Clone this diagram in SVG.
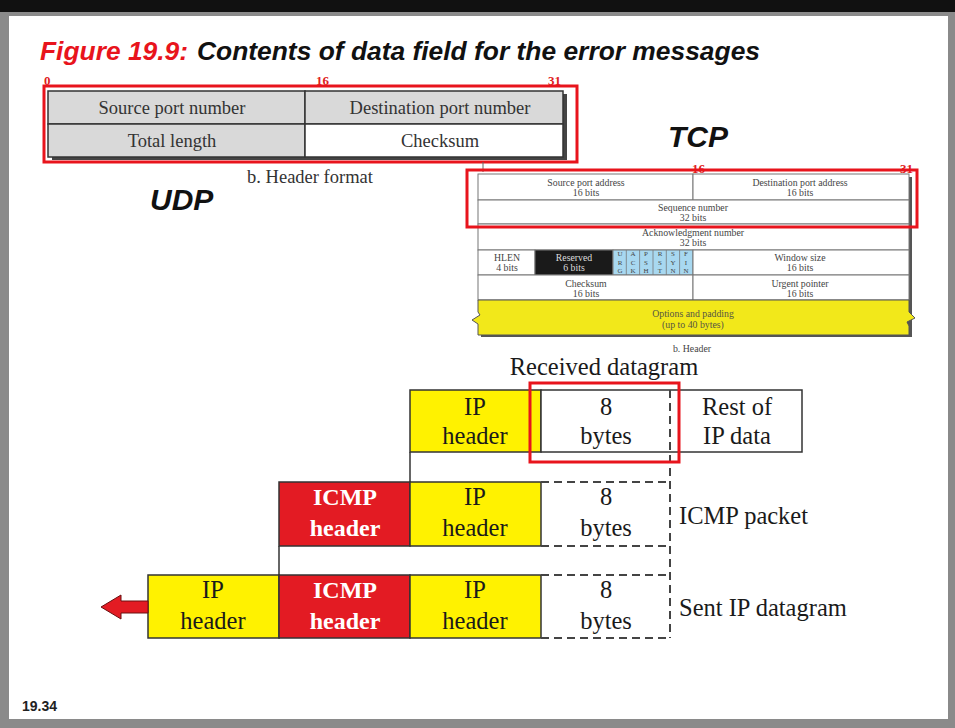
<svg xmlns="http://www.w3.org/2000/svg" width="955" height="728" viewBox="0 0 955 728">
<style>
.big{font-family:"Liberation Serif",serif;font-size:24.5px;fill:#1a1a1a;text-anchor:middle;}
.lbl{font-family:"Liberation Serif",serif;font-size:24.5px;fill:#1a1a1a;}
.wh{font-family:"Liberation Serif",serif;font-size:24px;fill:#fff;font-weight:bold;text-anchor:middle;}
.tc{font-family:"Liberation Serif",serif;font-size:9.8px;fill:#444;text-anchor:middle;}
.fl{font-family:"Liberation Serif",serif;font-size:7px;fill:#444;text-anchor:middle;}
.ud{font-family:"Liberation Serif",serif;font-size:18.5px;fill:#333;text-anchor:middle;}
.red{font-family:"Liberation Serif",serif;font-size:13px;fill:#e02020;font-weight:bold;}
.hl{fill:none;stroke:#e8141c;stroke-width:3;}
.cell{stroke:#333;stroke-width:1.5;}
.tcell{fill:#fff;stroke:#777;stroke-width:1;}
.dash{fill:none;stroke:#444;stroke-width:2;stroke-dasharray:8,5;}
.yel{fill:#fff200;}
.rd{fill:#e31b23;}
.big-it{font-family:"Liberation Sans",Arial,sans-serif;font-style:italic;font-weight:bold;font-size:30px;fill:#111;}
</style>
<rect x="0" y="0" width="955" height="728" fill="#8a8a8a"/>
<rect x="0" y="0" width="955" height="12" fill="#111"/>
<rect x="9" y="16" width="939" height="703" fill="#fff"/>

<g id="title">
<text x="40" y="60" font-family="Liberation Sans,Arial,sans-serif" font-style="italic" font-weight="bold" font-size="26" fill="#e8141c" textLength="148" lengthAdjust="spacingAndGlyphs">Figure 19.9:</text>
<text x="197" y="60" font-family="Liberation Sans,Arial,sans-serif" font-style="italic" font-weight="bold" font-size="26" fill="#111" textLength="563" lengthAdjust="spacingAndGlyphs">Contents of data field for the error messages</text>
</g>

<g id="udp-header">
<text class="red" x="44" y="85">0</text>
<text class="red" x="316" y="85">16</text>
<text class="red" x="548" y="85">31</text>
<rect x="52" y="94" width="515" height="66" fill="#444"/>
<rect x="48" y="91" width="257" height="33" fill="#d9d9d9" class="cell"/>
<rect x="305" y="91" width="258" height="33" fill="#d9d9d9" class="cell"/>
<rect x="48" y="124" width="257" height="33" fill="#d9d9d9" class="cell"/>
<rect x="305" y="124" width="258" height="33" fill="#fff" class="cell"/>
<text class="ud" x="172" y="114">Source port number</text>
<text class="ud" x="440" y="114">Destination port number</text>
<text class="ud" x="172" y="147">Total length</text>
<text class="ud" x="440" y="147">Checksum</text>
<rect class="hl" x="44" y="86" width="533" height="76"/>
<text class="ud" x="310" y="183">b. Header format</text>
<text class="big-it" x="150" y="210">UDP</text>
</g>

<g id="tcp-header">
<line x1="483" y1="162" x2="483" y2="172" stroke="#666" stroke-width="1"/>
<text class="red" x="692" y="173" font-size="10" font-weight="normal">16</text>
<text class="red" x="900" y="173" font-size="10" font-weight="normal">31</text>
<rect x="481" y="177" width="431" height="160" fill="#555"/>
<rect class="tcell" x="478" y="174" width="215" height="26"/>
<rect class="tcell" x="693" y="174" width="216" height="26"/>
<rect class="tcell" x="478" y="200" width="431" height="24"/>
<rect class="tcell" x="478" y="224" width="431" height="26"/>
<rect class="tcell" x="478" y="250" width="57" height="25"/>
<rect x="535" y="250" width="78" height="25" fill="#1a1a1a" stroke="#777" stroke-width="1"/>
<rect x="613" y="250" width="80" height="25" fill="#a8d8f0" stroke="#777" stroke-width="1"/>
<g stroke="#777" stroke-width="0.8">
<line x1="626.3" y1="250" x2="626.3" y2="275"/><line x1="639.6" y1="250" x2="639.6" y2="275"/><line x1="653" y1="250" x2="653" y2="275"/><line x1="666.3" y1="250" x2="666.3" y2="275"/><line x1="679.6" y1="250" x2="679.6" y2="275"/>
</g>
<rect class="tcell" x="693" y="250" width="216" height="25"/>
<rect class="tcell" x="478" y="275" width="215" height="25"/>
<rect class="tcell" x="693" y="275" width="216" height="25"/>
<path d="M478,300 H909 V312 L915,318 L907,322 L909,326 V335 H478 V324 L472,320 L480,315 L478,312 Z" fill="#f2e81a" stroke="#555" stroke-width="1"/>
<text class="tc" x="586" y="186">Source port address</text>
<text class="tc" x="586" y="196">16 bits</text>
<text class="tc" x="800" y="186">Destination port address</text>
<text class="tc" x="800" y="196">16 bits</text>
<text class="tc" x="693" y="211">Sequence number</text>
<text class="tc" x="693" y="221">32 bits</text>
<text class="tc" x="693" y="236">Acknowledgment number</text>
<text class="tc" x="693" y="246">32 bits</text>
<text class="tc" x="507" y="261">HLEN</text>
<text class="tc" x="507" y="271">4 bits</text>
<text class="tc" x="574" y="261" style="fill:#ddd">Reserved</text>
<text class="tc" x="574" y="271" style="fill:#ddd">6 bits</text>
<text x="620" y="256" class="fl">U</text><text x="620" y="264.5" class="fl">R</text><text x="620" y="273" class="fl">G</text>
<text x="633" y="256" class="fl">A</text><text x="633" y="264.5" class="fl">C</text><text x="633" y="273" class="fl">K</text>
<text x="646" y="256" class="fl">P</text><text x="646" y="264.5" class="fl">S</text><text x="646" y="273" class="fl">H</text>
<text x="660" y="256" class="fl">R</text><text x="660" y="264.5" class="fl">S</text><text x="660" y="273" class="fl">T</text>
<text x="673" y="256" class="fl">S</text><text x="673" y="264.5" class="fl">Y</text><text x="673" y="273" class="fl">N</text>
<text x="686" y="256" class="fl">F</text><text x="686" y="264.5" class="fl">I</text><text x="686" y="273" class="fl">N</text>
<text class="tc" x="800" y="261">Window size</text>
<text class="tc" x="800" y="271">16 bits</text>
<text class="tc" x="586" y="287">Checksum</text>
<text class="tc" x="586" y="297">16 bits</text>
<text class="tc" x="800" y="287">Urgent pointer</text>
<text class="tc" x="800" y="297">16 bits</text>
<text class="tc" x="693" y="317" style="fill:#554">Options and padding</text>
<text class="tc" x="693" y="328" style="fill:#554">(up to 40 bytes)</text>
<text class="tc" x="692" y="352" font-size="8.5">b. Header</text>
<rect class="hl" x="467" y="170" width="450" height="57"/>
<text class="big-it" x="668" y="147">TCP</text>
</g>

<g id="received-datagram">
<text class="big" x="604" y="375">Received datagram</text>
<rect class="yel cell" x="410" y="390" width="131" height="62"/>
<rect fill="#fff" class="cell" x="541" y="390" width="261" height="62"/>
<text class="big" x="475" y="415">IP</text>
<text class="big" x="475" y="444">header</text>
<text class="big" x="606" y="415">8</text>
<text class="big" x="606" y="444">bytes</text>
<text class="big" x="737" y="415">Rest of</text>
<text class="big" x="737" y="444">IP data</text>
</g>

<g id="icmp-packet">
<rect class="rd cell" x="279" y="482" width="131" height="64"/>
<rect class="yel cell" x="410" y="482" width="131" height="64"/>
<text class="wh" x="345" y="505">ICMP</text>
<text class="wh" x="345" y="536">header</text>
<text class="big" x="475" y="505">IP</text>
<text class="big" x="475" y="536">header</text>
<path class="dash" d="M541,482 H670 M541,546 H670"/>
<text class="big" x="606" y="505">8</text>
<text class="big" x="606" y="536">bytes</text>
<text class="lbl" x="679" y="524">ICMP packet</text>
</g>

<g id="sent-ip-datagram">
<rect class="yel cell" x="148" y="575" width="131" height="63"/>
<rect class="rd cell" x="279" y="575" width="131" height="63"/>
<rect class="yel cell" x="410" y="575" width="131" height="63"/>
<text class="big" x="213" y="598">IP</text>
<text class="big" x="213" y="629">header</text>
<text class="wh" x="345" y="598">ICMP</text>
<text class="wh" x="345" y="629">header</text>
<text class="big" x="475" y="598">IP</text>
<text class="big" x="475" y="629">header</text>
<path class="dash" d="M541,575 H670 M541,638 H670"/>
<text class="big" x="606" y="598">8</text>
<text class="big" x="606" y="629">bytes</text>
<text class="lbl" x="679" y="616">Sent IP datagram</text>
</g>

<g id="connectors">
<line x1="410" y1="452" x2="410" y2="482" stroke="#333" stroke-width="1.5"/>
<line x1="279" y1="546" x2="279" y2="575" stroke="#333" stroke-width="1.5"/>
<line class="dash" x1="670" y1="390" x2="670" y2="638"/>
<path d="M148,601 H121 V595 L101,607 L121,619 V613 H148 Z" fill="#e31b23" stroke="#6a1010" stroke-width="1"/>
</g>

<g id="highlight-8-bytes">
<rect class="hl" x="530" y="383" width="149" height="79"/>
</g>

<text x="22" y="711" font-family="Liberation Sans,Arial,sans-serif" font-weight="bold" font-size="14" fill="#222">19.34</text>
</svg>
